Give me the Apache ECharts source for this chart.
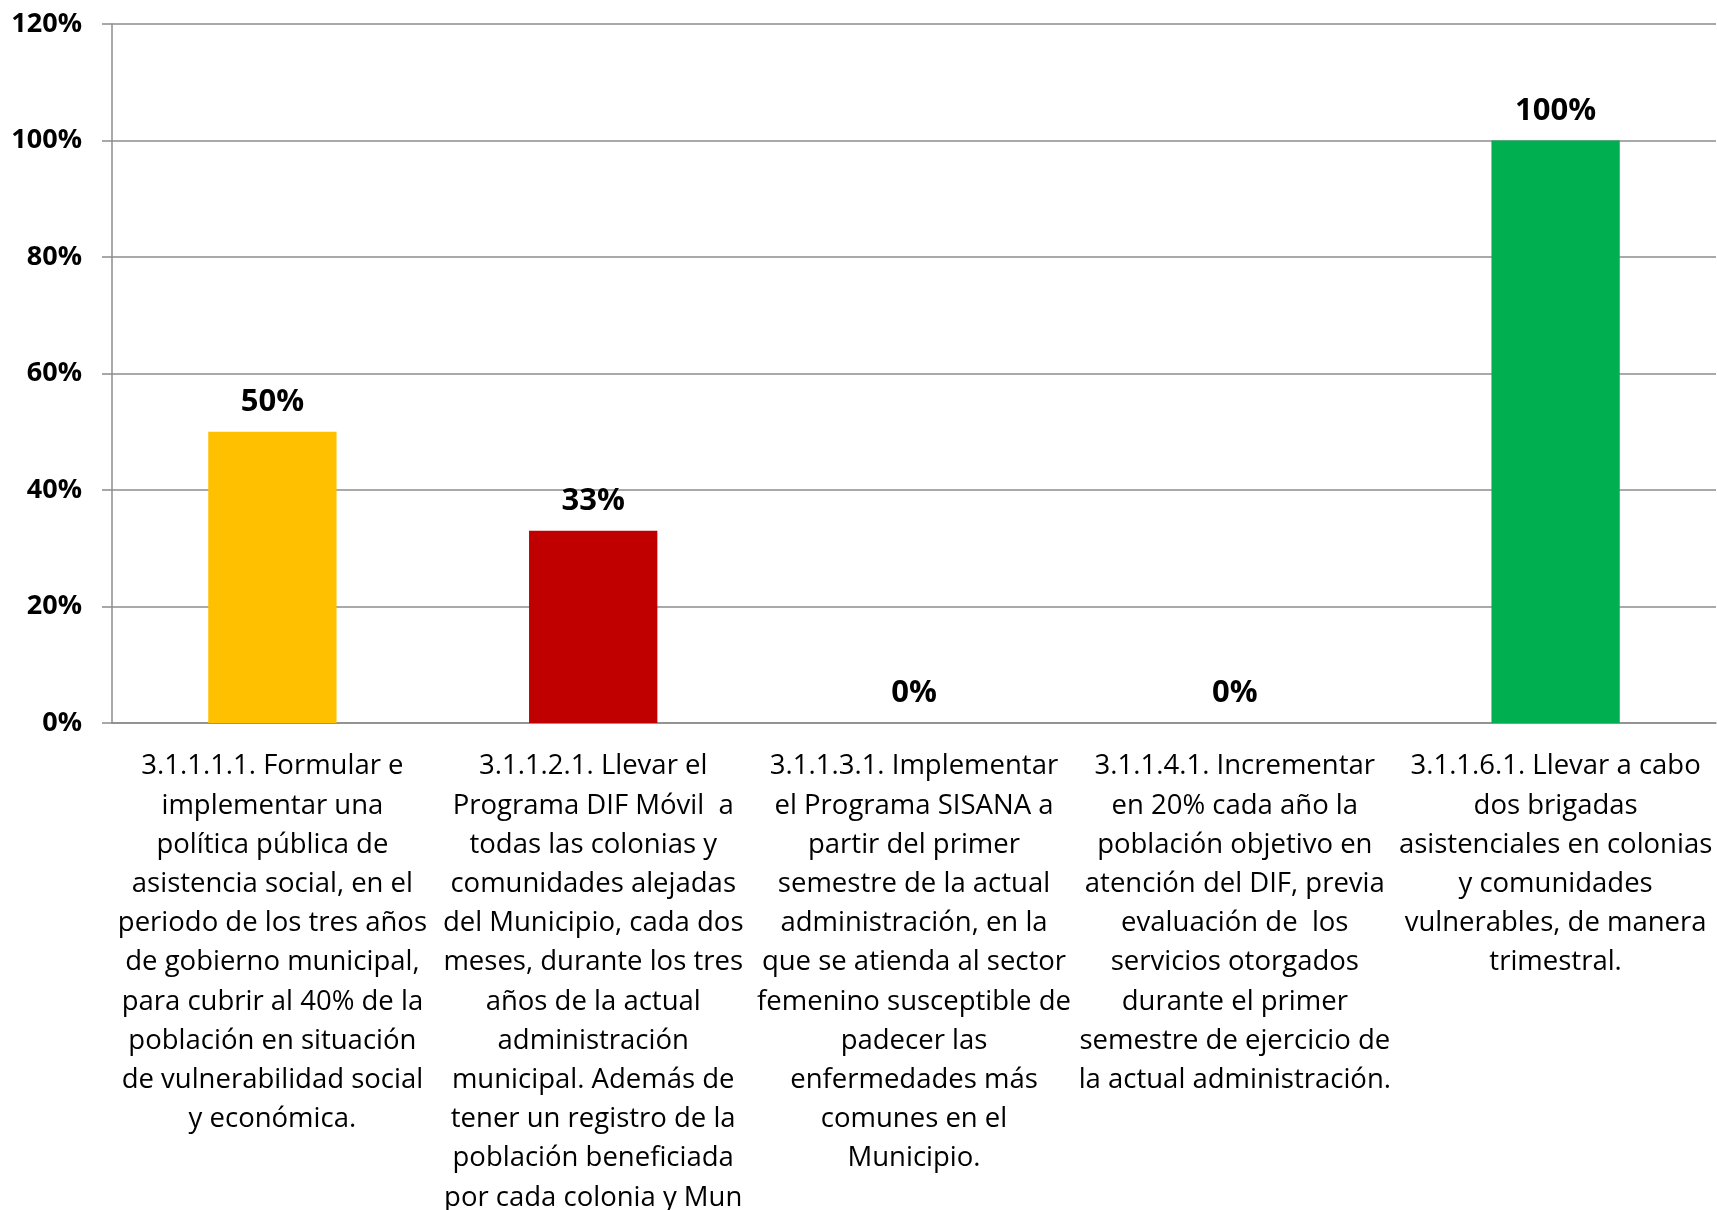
<!DOCTYPE html>
<html>
<head>
<meta charset="utf-8">
<script src="https://cdn.jsdelivr.net/npm/echarts@6/dist/echarts.min.js"></script>
<style>
html, body { margin: 0; padding: 0; background: #fff; }
#chart { width: 1717px; height: 1210px; }
</style>
</head>
<body>
<div id="chart"></div>
<script>
let categories = [
    '3.1.1.1.1. Formular e\nimplementar una\npolítica pública de\nasistencia social, en el\nperiodo de los tres años\nde gobierno municipal,\npara cubrir al 40% de la\npoblación en situación\nde vulnerabilidad social\ny económica.',
    '3.1.1.2.1. Llevar el\nPrograma DIF Móvil  a\ntodas las colonias y\ncomunidades alejadas\ndel Municipio, cada dos\nmeses, durante los tres\naños de la actual\nadministración\nmunicipal. Además de\ntener un registro de la\npoblación beneficiada\npor cada colonia y Mun',
    '3.1.1.3.1. Implementar\nel Programa SISANA a\npartir del primer\nsemestre de la actual\nadministración, en la\nque se atienda al sector\nfemenino susceptible de\npadecer las\nenfermedades más\ncomunes en el\nMunicipio.',
    '3.1.1.4.1. Incrementar\nen 20% cada año la\npoblación objetivo en\natención del DIF, previa\nevaluación de  los\nservicios otorgados\ndurante el primer\nsemestre de ejercicio de\nla actual administración.',
    '3.1.1.6.1. Llevar a cabo\ndos brigadas\nasistenciales en colonias\ny comunidades\nvulnerables, de manera\ntrimestral.'
]
let values = [50, 33, 0, 0, 100]
let yTicks = [0, 20, 40, 60, 80, 100, 120]

// colores de cada barra
let barColors = ['#FFC000', '#C00000', '#4F81BD', '#4F81BD', '#00B050']

let font = '"Open Sans", "Liberation Sans", sans-serif'
let myChart = echarts.init(document.getElementById('chart'))
let option = {
    animation: false,
    grid: {
        left: 112,
        right: 1,
        top: 24,
        bottom: 487,
        outerBoundsMode: 'none'
    },
    xAxis: {
        type: 'category',
        data: categories,
        axisLine: { lineStyle: { color: '#8c8c8c', width: 1.5 } },
        axisTick: { length: 10, lineStyle: { color: '#8c8c8c', width: 1.5 } },
        axisLabel: {
            interval: 0,
            margin: 24,
            color: '#000',
            fontFamily: font,
            fontSize: 27.5,
            lineHeight: 39.2
        }
    },
    yAxis: {
        type: 'value',
        min: yTicks[0],
        max: yTicks[yTicks.length - 1],
        interval: yTicks[1] - yTicks[0],
        axisLine: { show: true, lineStyle: { color: '#8c8c8c', width: 1.5 } },
        axisTick: { show: true, length: 10, lineStyle: { color: '#8c8c8c', width: 1.5 } },
        splitLine: { lineStyle: { color: '#8c8c8c', width: 1.5 } },
        axisLabel: {
            margin: 30,
            formatter: '{value}%',
            color: '#000',
            fontFamily: font,
            fontWeight: 'bold',
            fontSize: 27
        }
    },
    series: [
        {
            type: 'bar',
            barWidth: '40%',
            data: values.map((v, i) => ({ value: v, itemStyle: { color: barColors[i] } })),
            label: {
                show: true,
                position: 'top',
                distance: 14,
                formatter: '{c}%',
                color: '#000',
                fontFamily: font,
                fontWeight: 'bold',
                fontSize: 31
            }
        }
    ]
}
myChart.setOption(option)
</script>
</body>
</html>
